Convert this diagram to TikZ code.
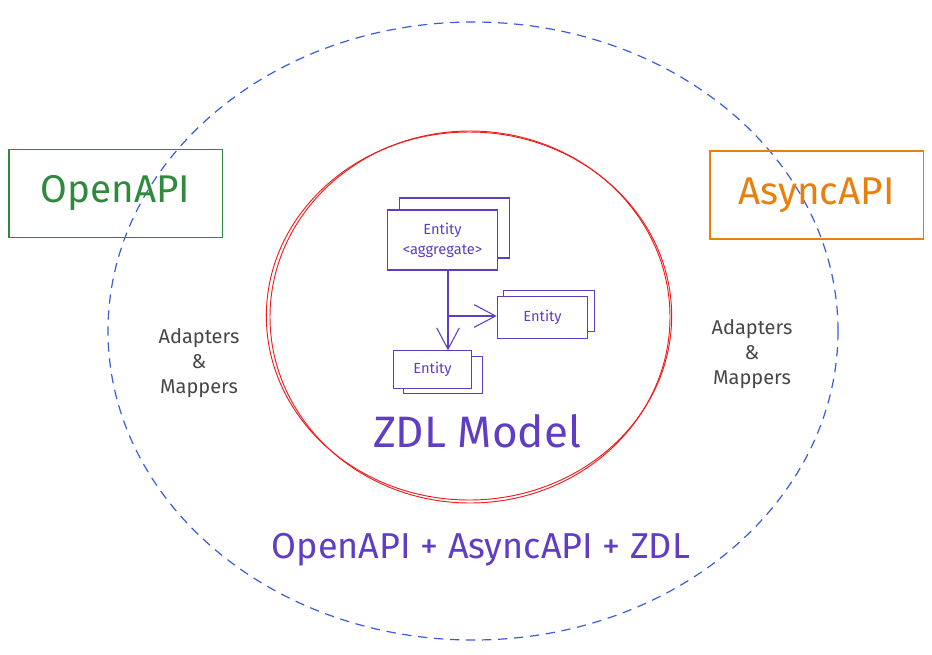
\documentclass[tikz,border=0pt]{standalone}
\usepackage{fontspec}
\setmainfont{Fira Sans}
\usepackage{xcolor}
\definecolor{ink}{HTML}{5F3DC4}
\definecolor{ring}{HTML}{3B5BDB}
\definecolor{core}{HTML}{F01C1C}
\definecolor{oagreen}{HTML}{2F8A3E}
\definecolor{aaorange}{HTML}{E8800C}
\definecolor{muted}{HTML}{474747}
\usepackage{tikz}
\usetikzlibrary{arrows.meta, positioning, calc, shadows}

\begin{document}
\begin{tikzpicture}[
  x=0.75pt, y=-0.75pt,
  spec/.style={
    draw=#1, text=#1, line width=1pt,
    minimum width=160pt, minimum height=66pt,
    font=\fontsize{29}{34}\selectfont
  },
  entity/.style={
    draw=ink, text=ink, fill=white, line width=0.8pt,
    align=center, inner sep=2pt,
    font=\fontsize{11}{15}\selectfont
  },
  mapper/.style={
    text=muted, align=center,
    font=\fontsize{15}{19}\selectfont
  },
  link/.style={
    draw=ink, line width=0.8pt,
    -{Straight Barb[length=16pt, width=17pt]}
  }
]
  \useasboundingbox (0,0) rectangle (932,654);
  \draw[ring, line width=0.9pt, dash pattern=on 7pt off 5pt]
    (473,331) ellipse [x radius=273.75pt, y radius=231.75pt];
  \draw[core, line width=0.7pt] (469,316) ellipse [x radius=152pt, y radius=138pt];
  \draw[core, line width=0.7pt] (470,317) ellipse [x radius=150pt, y radius=139.5pt];

  \node[spec=oagreen] (openapi) at (115.5,193.5) {OpenAPI};
  \node[spec=aaorange] (asyncapi) at (816.5,195) {AsyncAPI};

  \node[mapper] (mapl) at (199,363) {Adapters\\\&\\Mappers};
  \node[mapper] (mapr) at (752,354) {Adapters\\\&\\Mappers};

  \node[entity, minimum width=82pt, minimum height=45pt,
    copy shadow={shadow xshift=9pt, shadow yshift=9pt}]
    (agg) at (442.5,240) {Entity\\<aggregate>};
  \node[entity, minimum width=68pt, minimum height=31pt,
    copy shadow={shadow xshift=5pt, shadow yshift=5pt}]
    (ent1) at (542.5,317.5) {Entity};
  \node[entity, minimum width=59pt, minimum height=28pt,
    copy shadow={shadow xshift=8pt, shadow yshift=-4pt}]
    (ent2) at (432.5,369.5) {Entity};

  \coordinate (fork) at (448,316);
  \draw[link] (agg.south -| fork) -- (fork |- ent2.north);
  \draw[link] (fork) -- (fork -| ent1.west);

  \node[text=ink, font=\fontsize{33}{38}\selectfont] (zdl) at (477,431) {ZDL Model};
  \node[text=ink, font=\fontsize{27}{32}\selectfont] (stack) at (481,550)
    {OpenAPI + AsyncAPI + ZDL};
\end{tikzpicture}
\end{document}
